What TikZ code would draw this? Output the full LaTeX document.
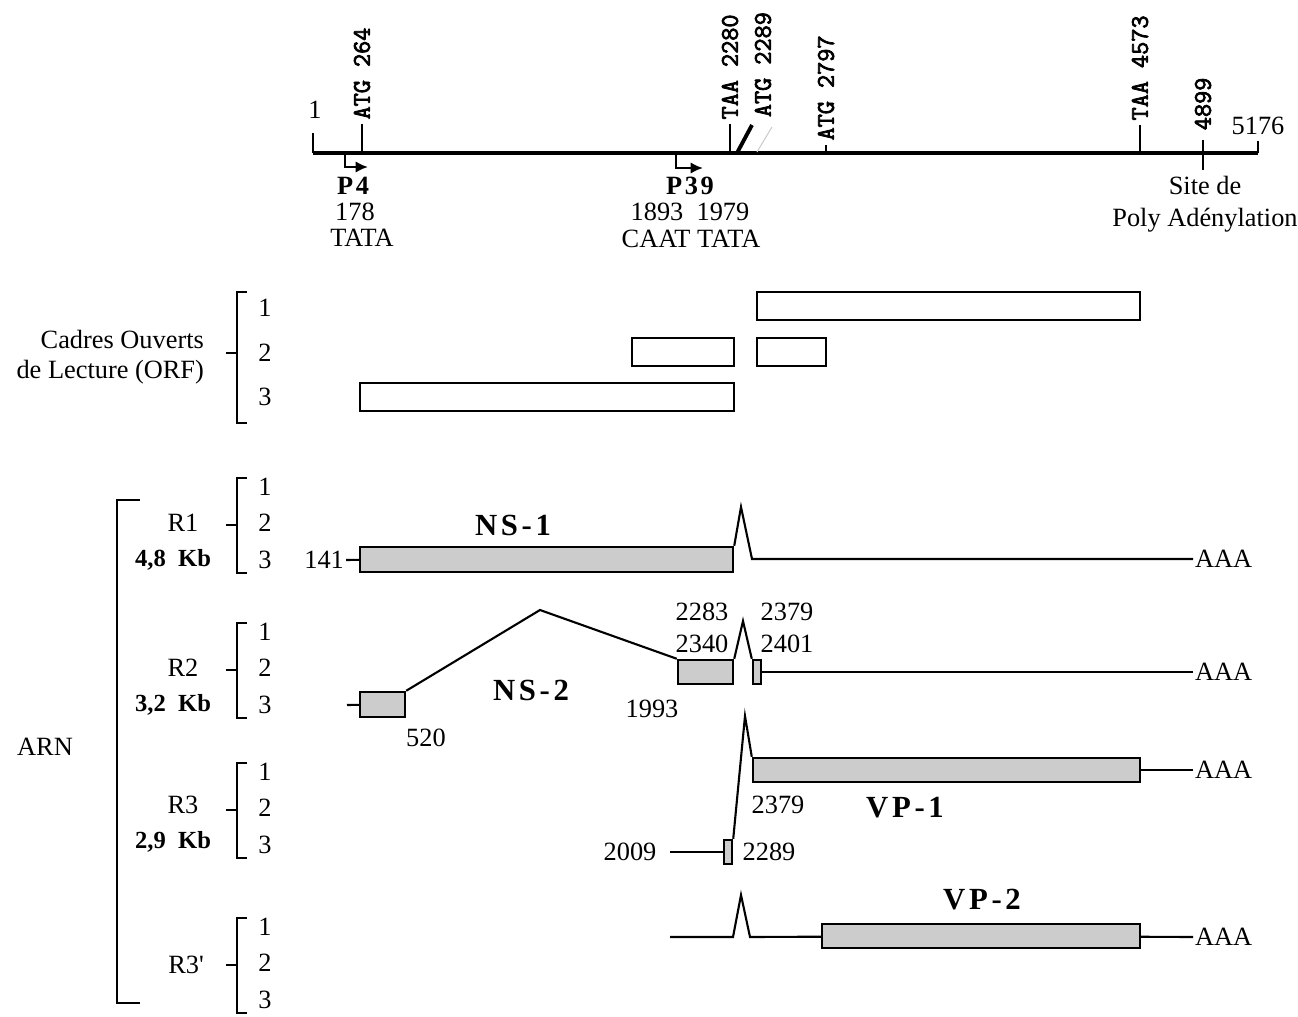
\documentclass[tikz,border=0pt]{standalone}
\usepackage{fontspec}
\setmainfont{Liberation Serif}
\newfontfamily\codonfont{Latin Modern Mono}[FakeBold=3]
\usetikzlibrary{arrows.meta, positioning, fit}

\begin{document}
\begin{tikzpicture}[
    x=0.02cm, y=-0.02cm,
    every node/.style={font=\fontsize{15}{16}\selectfont, inner sep=1pt},
    axis/.style={line width=2.4pt},
    tick/.style={line width=1.2pt},
    codon/.style={rotate=90, anchor=west, inner sep=2pt, font=\fontsize{14.5}{14.5}\selectfont\codonfont},
    promoter/.style={line width=1.4pt, -{Latex[length=7pt, width=6.5pt]}},
    orf/.style={draw, line width=1.1pt, inner sep=0pt},
    exon/.style={draw, line width=1.4pt, fill=gray!40, inner sep=0pt},
    rna/.style={line width=1.2pt},
    bracket/.style={line width=1.2pt},
    gene/.style={font=\fontsize{17.5}{19}\selectfont\bfseries\addfontfeatures{LetterSpace=12}},
    prom/.style={inner sep=0pt, font=\fontsize{15}{16}\selectfont\bfseries\addfontfeatures{LetterSpace=10}},
    kb/.style={font=\fontsize{14}{16}\selectfont\bfseries}
]
\useasboundingbox (0,0) rectangle (1298,1017);

% Genome map
\draw[axis] (313,153) -- (1258,153);
\draw[tick] (313,153) -- (313,133);
\node (n1) at (315,110) {1};
\draw[tick] (1258,153) -- (1258,141);
\node (n5176) at (1258,126) {5176};
\draw[tick] (362,153) -- (362,124) node[codon] (atg264) {ATG 264};
\draw[tick] (730,153) -- (730,124) node[codon] (taa2280) {TAA 2280};
\draw[line width=2.2pt] (737,153) -- (752,125);
\node[codon] (atg2289) at (763,121) {ATG 2289};
\draw[gray!40, line width=0.6pt] (757,152) -- (772,127);
\draw[tick] (826,153) -- (826,145) node[codon] (atg2797) {ATG 2797};
\draw[tick] (1140,153) -- (1140,125) node[codon] (taa4573) {TAA 4573};
\draw[tick] (1203,140) -- (1203,170);
\node[codon] (pa4899) at (1203,134) {4899};

% Promoters
\draw[promoter] (345,153) |- (368,167);
\draw[promoter] (676,153) |- (703,168);
\node[prom] (p4) at (353,186) {P4};
\node[inner sep=0pt] (p4pos) at (355,212) {178};
\node (p4box) at (362,238) {TATA};
\node[prom] (p39) at (690,186) {P39};
\node[inner sep=0pt] (p39pos) at (690,212) {1893\enspace 1979};
\node (p39box) at (691,239) {CAAT TATA};
\node[align=center, font=\fontsize{15}{18}\selectfont] (polya) at (1205,204) {Site de\\Poly Adénylation};

% Open reading frames
\draw[bracket] (247,292) -- (237,292) -- (237,423) -- (247,423);
\draw[bracket] (226,353) -- (237,353);
\node (orf-f1) at (265,308) {1};
\node (orf-f2) at (265,353) {2};
\node (orf-f3) at (265,397) {3};
\node[align=right, anchor=east, font=\fontsize{15}{17}\selectfont] (orflab) at (206,357) {Cadres Ouverts\\de Lecture (ORF)};
\node[orf, fit={(757,292) (1140,320)}] (orf1a) {};
\node[orf, fit={(632,338) (734,366)}] (orf2a) {};
\node[orf, fit={(757,338) (826,366)}] (orf2b) {};
\node[orf, fit={(360,383) (734,411)}] (orf3a) {};

% RNA frames
\draw[bracket] (140,500) -- (117,500) -- (117,1003) -- (140,1003);
\node (arn) at (45,747) {ARN};
\foreach \t/\nm in {478/r1, 623/r2, 763/r3, 918/r3p} {
  \draw[bracket] (247,\t) -- (237,\t) -- (237,\t+95) -- (247,\t+95);
  \draw[bracket] (226,\t+47) -- (237,\t+47);
  \node (\nm-f1) at (265,\t+9) {1};
  \node (\nm-f2) at (265,\t+45) {2};
  \node (\nm-f3) at (265,\t+82) {3};
}
\node (r1) at (183,523) {R1};
\node[kb] (r1kb) at (173,560) {4,8\enspace Kb};
\node (r2) at (183,668) {R2};
\node[kb] (r2kb) at (173,705) {3,2\enspace Kb};
\node (r3) at (183,805) {R3};
\node[kb] (r3kb) at (173,842) {2,9\enspace Kb};
\node (r3p) at (186,965) {R3\textquotesingle};

% R1
\node[anchor=east] (s141) at (346,560) {141};
\node[exon, fit={(360,547) (733,572)}] (ns1) {};
\node[gene] (ns1lab) at (513,525) {NS-1};
\coordinate (r1top) at (741,507);
\coordinate (r1low) at (752,559);
\coordinate (r1end) at (1193,559);
\node[right=0pt of r1end] (aaa1) {AAA};
\draw[rna] (s141) -- (ns1);
\draw[rna] (ns1.north east) -- (r1top) -- (r1low) -- (r1end);

% R2
\coordinate (r2start) at (347,705);
\node[exon, fit={(360,692) (405,717)}] (ns2a) {};
\node[exon, fit={(678,660) (733,684)}] (ns2b) {};
\node[exon, fit={(753,660) (761,684)}] (ns2c) {};
\coordinate (r2apex) at (540,610);
\coordinate (r2top) at (743,621);
\coordinate (r2end) at (1193,672);
\node[right=0pt of r2end] (aaa2) {AAA};
\draw[rna] (r2start) -- (ns2a);
\draw[rna] (ns2a.north east) -- (r2apex) -- (ns2b.north west);
\draw[rna] (ns2b.north east) -- (r2top) -- (ns2c.north west);
\draw[rna] (ns2c) -- (r2end);
\node (s520) at (426,738) {520};
\node[gene] (ns2lab) at (531,690) {NS-2};
\node (s1993) at (652,709) {1993};
\node (s2283) at (702,612) {2283};
\node (s2340) at (702,644) {2340};
\node (s2379a) at (787,612) {2379};
\node (s2401) at (787,644) {2401};

% R3
\coordinate (r3start) at (670,852);
\node[exon, fit={(724,840) (732,864)}] (vp1a) {};
\node[exon, fit={(753,758) (1140,782)}] (vp1b) {};
\coordinate (r3top) at (745,716);
\coordinate (r3end) at (1193,770);
\node[right=0pt of r3end] (aaa3) {AAA};
\draw[line width=0.9pt] (r3start) -- (vp1a);
\draw[rna] (vp1a.north east) -- (r3top) -- (vp1b.north west);
\draw[rna] (vp1b) -- (r3end);
\node (s2009) at (630,852) {2009};
\node (s2289) at (769,852) {2289};
\node (s2379b) at (778,805) {2379};
\node[gene] (vp1lab) at (905,808) {VP-1};

% R3'
\coordinate (r3pstart) at (670,937);
\coordinate (r3pup) at (733,937);
\coordinate (r3ptop) at (741,895);
\coordinate (r3pdown) at (750,937);
\node[exon, fit={(822,924) (1140,948)}] (vp2) {};
\coordinate (r3pend) at (1193,937);
\node[right=0pt of r3pend] (aaa4) {AAA};
\draw[rna] (r3pstart) -- (r3pup) -- (r3ptop) -- (r3pdown) -- (vp2);
\draw[rna] (vp2) -- (r3pend);
\node[gene] (vp2lab) at (982,900) {VP-2};

\end{tikzpicture}
\end{document}
